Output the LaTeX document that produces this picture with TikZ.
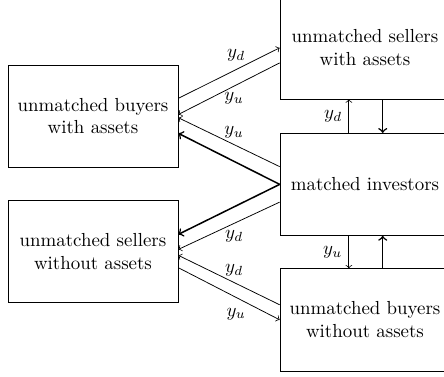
\documentclass[tikz,border=0pt]{standalone}
\usetikzlibrary{calc}
\begin{document}
\begin{tikzpicture}[box/.style={draw,minimum width=3.16cm,minimum height=1.9cm,align=center},
	flow/.style={->},big/.style={->,thick}]
	\useasboundingbox (0,0) rectangle (8.26,7.01);
	\clip (0,0) rectangle (8.26,7.01);
	\node[box] (buyA) at (1.73,4.85) {unmatched buyers\\with assets};
	\node[box] (sellN) at (1.73,2.33) {unmatched sellers\\without assets};
	\node[box] (sellA) at (6.79,6.12) {unmatched sellers\\with assets};
	\node[box] (match) at (6.79,3.58) {matched investors};
	\node[box] (buyN) at (6.79,1.06) {unmatched buyers\\without assets};
	\draw[flow] ($(buyA.east)+(0,0.33)$) -- node[pos=0.57,above=1pt] {$y_d$} (sellA.west);
	\draw[flow] ($(sellA.west)+(0,-0.28)$) -- node[pos=0.45,below] {$y_u$} ($(buyA.east)+(0,0.03)$);
	\draw[flow] ($(match.west)+(0,0.33)$) -- node[pos=0.45,above] {$y_u$} ($(buyA.east)+(0,-0.03)$);
	\draw[big] (match.west) -- ($(buyA.east)+(0,-0.32)$);
	\draw[big] (match.west) -- ($(sellN.east)+(0,0.32)$);
	\draw[flow] ($(match.west)+(0,-0.33)$) -- node[pos=0.45,below] {$y_d$} ($(sellN.east)+(0,0.04)$);
	\draw[flow] ($(buyN.west)+(0,0.28)$) -- node[pos=0.45,above] {$y_d$} ($(sellN.east)+(0,-0.07)$);
	\draw[flow] ($(sellN.east)+(0,-0.3)$) -- node[pos=0.57,below=2pt] {$y_u$} (buyN.west);
	\draw[flow] ($(match.north)+(-0.3,0)$) -- node[left] {$y_d$} ($(sellA.south)+(-0.3,0)$);
	\draw[big] ($(sellA.south)+(0.33,0)$) -- ($(match.north)+(0.33,0)$);
	\draw[flow] ($(match.south)+(-0.3,0)$) -- node[left] {$y_u$} ($(buyN.north)+(-0.3,0)$);
	\draw[big] ($(buyN.north)+(0.33,0)$) -- ($(match.south)+(0.33,0)$);
\end{tikzpicture}
\end{document}
